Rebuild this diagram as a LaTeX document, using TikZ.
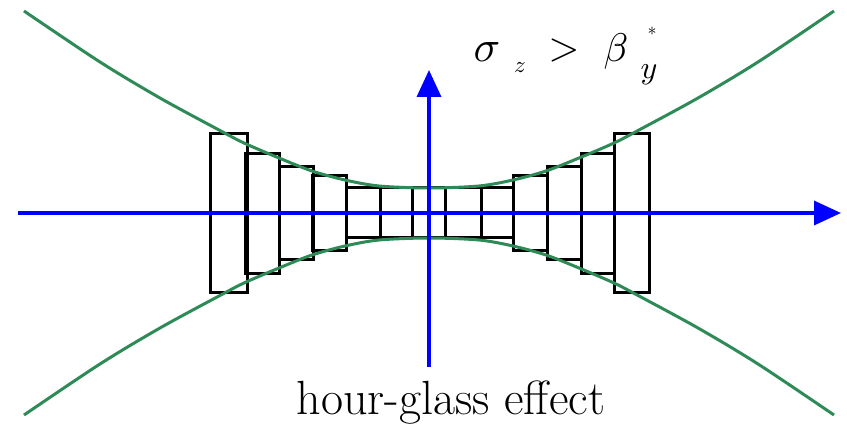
\documentclass[tikz,border=0pt]{standalone}
\usetikzlibrary{arrows.meta}
\definecolor{curvegreen}{RGB}{46,139,87}
\definecolor{axisblue}{RGB}{0,0,255}
\begin{document}
\begin{tikzpicture}[x=1pt,y=-1pt,
  box/.style={draw=black,line width=3pt},
  beam/.style={draw=curvegreen,line width=3pt},
  axis/.style={draw=axisblue,line width=3.5pt,-{Triangle[length=27pt,width=24pt]}},
  glyph/.style={inner sep=0pt,anchor=base,font=\fontsize{10}{12}\selectfont}]
\useasboundingbox (0,0) rectangle (847,427);
% bunch slices
\foreach \xa/\xb/\t/\b in {210/247/134/293, 245/279/154/274, 279/313/167/260, 312/346/176/251,
  346/380/188/238, 380/412/188/238, 412/445/188/238, 445/481/188/238, 481/513/188/238,
  513/547/176/251, 547/581/167/260, 581/614/154/274, 614/649/134/293}
  \draw[box] (\xa,\t) rectangle (\xb,\b);
% envelope
\draw[beam] plot[smooth] coordinates {(24,11) (100,62) (160,98) (219,130) (244,143) (279,158)
  (312,171) (345,180) (379,186) (429,188) (479,186) (513,180) (546,171) (579,158) (614,143)
  (639,130) (698,98) (758,62) (834,11)};
\draw[beam] plot[smooth] coordinates {(24,415) (100,364) (160,328) (219,296) (244,283) (279,268)
  (312,255) (345,246) (379,240) (429,238) (479,240) (513,246) (546,255) (579,268) (614,283)
  (639,296) (698,328) (758,364) (834,415)};
% axes
\coordinate (xl) at (18,213);
\coordinate (xr) at (841,213);
\coordinate (yb) at (429,367);
\coordinate (yt) at (429,70);
\draw[axis] (xl) -- (xr);
\draw[axis] (yb) -- (yt);
% labels
\node[glyph,scale=4.4] (sig) at (487,62) {$\sigma$};
\node[glyph,scale=2.3] (subz) at (520,73) {$z$};
\node[glyph,scale=4.0] (gt) at (564,61) {$>$};
\node[glyph,scale=4.0] (bet) at (616,62) {$\beta$};
\node[glyph,scale=1.8] (star) at (652,36) {$\ast$};
\node[glyph,scale=3.2] (suby) at (649,79) {$y$};
\node[inner sep=0pt,anchor=base,font=\fontsize{48}{52}\selectfont] (caption) at (451,415) {hour-glass effect};
\end{tikzpicture}
\end{document}
